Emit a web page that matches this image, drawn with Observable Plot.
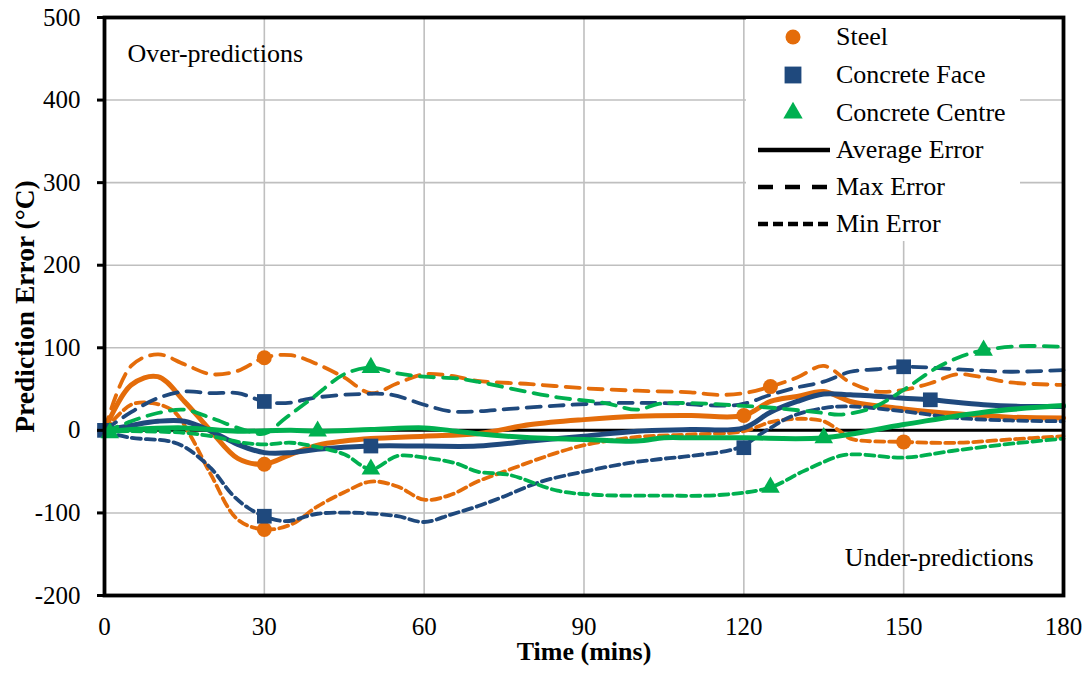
<!DOCTYPE html>
<html><head><meta charset="utf-8">
<script src="https://cdn.jsdelivr.net/npm/d3@7"></script>
<script src="https://cdn.jsdelivr.net/npm/@observablehq/plot@0.6"></script>
<style>
body{margin:0;background:#fff;}
#wrap{position:relative;width:1091px;height:673px;font-family:"Liberation Serif","Times New Roman",serif;}
g[aria-label="x-axis label"] text{font-weight:bold;font-size:26px;}
g[aria-label="y-axis label"] text{font-weight:bold;font-size:27.5px;}
#legend{position:absolute;left:746px;top:19px;width:274px;height:222px;background:#fff;}
.row{position:absolute;left:0;height:30px;width:274px;}
.row svg{position:absolute;left:0;top:0;}
.row span{position:absolute;left:90px;top:0;line-height:30px;font-size:26px;white-space:nowrap;color:#000;}
</style></head><body><div id="wrap"></div>
<script>
// ---- axis ticks ----
const xTicks = [0, 30, 60, 90, 120, 150, 180];
const yTicks = [-200, -100, 0, 100, 200, 300, 400, 500];

// ---- series values: [time (mins), prediction error (°C)] ----
const steelAvg = [[0,0],[5,55],[10,65],[15,35],[20,-1],[25,-34],[30,-41],[35,-29],[40,-18],[45,-13],[50,-10],[60,-7],[70,-4],[80,7],[90,13],[100,17],[110,18],[120,18],[125,35],[130,41],[135,47],[140,35],[150,26],[160,20],[170,16],[180,15]];
const steelMax = [[0,0],[5,78],[10,92],[15,80],[20,68],[25,72],[30,88],[35,91],[40,80],[45,64],[50,45],[55,57],[60,68],[65,66],[70,60],[80,56],[90,51],[100,48],[110,46],[115,43],[120,45],[125,53],[130,64],[135,78],[140,58],[145,47],[150,49],[155,57],[160,68],[165,64],[170,58],[180,55]];
const steelMin = [[0,0],[5,31],[9,33],[13,23],[16,-5],[20,-54],[25,-108],[30,-120],[35,-114],[40,-92],[45,-75],[50,-62],[55,-68],[60,-84],[65,-78],[70,-62],[75,-50],[80,-38],[85,-27],[90,-18],[100,-8],[110,-5],[120,-1],[125,10],[130,14],[135,11],[138,-1],[140,-10],[150,-14],[160,-15],[170,-11],[180,-7]];

const faceAvg = [[0,0],[5,6],[10,11],[15,11],[20,-1],[25,-17],[30,-27],[35,-27],[40,-23],[50,-19],[60,-19],[70,-19],[80,-13],[90,-7],[100,-1],[110,1],[120,3],[125,22],[130,35],[135,44],[140,43],[150,39],[155,37],[165,31],[172,29],[180,29]];
const faceMax = [[0,0],[5,22],[10,39],[15,47],[20,45],[25,45],[30,35],[34,33],[40,40],[48,44],[54,43],[60,31],[65,23],[70,23],[76,26],[85,30],[95,33],[105,33],[119,31],[125,43],[130,52],[135,59],[140,71],[145,74],[150,77],[160,74],[170,71],[180,73]];
const faceMin = [[0,-2],[5,-9],[12,-13],[15,-20],[20,-46],[24,-78],[27,-94],[30,-104],[34,-110],[40,-101],[48,-100],[55,-104],[60,-111],[65,-102],[70,-92],[75,-80],[82,-62],[90,-50],[98,-40],[104,-35],[110,-31],[119,-21],[124,-1],[129,17],[135,27],[140,29],[150,23],[160,15],[170,12],[180,11]];

const centreAvg = [[0,-2],[5,1],[15,3],[25,-1],[35,0],[40,-1],[50,1],[60,3],[66,-1],[70,-4],[80,-9],[90,-11],[100,-13],[105,-9],[110,-9],[120,-9],[135,-9],[150,7],[165,22],[180,30]];
const centreMax = [[0,-2],[5,11],[10,21],[15,25],[20,15],[26,1],[30,-4],[34,15],[39,39],[45,68],[50,76],[55,69],[60,65],[66,63],[70,59],[76,51],[85,40],[94,33],[100,25],[104,32],[110,33],[119,30],[126,27],[135,21],[138,19],[144,27],[150,49],[156,75],[161,90],[165,97],[172,102],[180,101]];
const centreMin = [[0,-2],[5,-1],[15,-3],[20,-7],[26,-15],[30,-17],[35,-15],[39,-19],[45,-29],[50,-47],[55,-31],[60,-33],[66,-40],[70,-50],[76,-54],[85,-73],[92,-78],[104,-79],[116,-78],[125,-69],[131,-50],[138,-31],[141,-29],[150,-33],[159,-25],[169,-17],[180,-10]];

// ---- marker points ----
const steelMarkers = [[0,0],[30,88],[30,-41],[30,-120],[120,18],[125,53],[150,-14]];
const faceMarkers = [[0,0],[30,35],[30,-104],[50,-19],[120,-21],[150,77],[155,37]];
const centreMarkers = [[1,-3],[40,-1],[50,76],[50,-47],[125,-69],[135,-9],[165,97]];

// ---- categories ----
const groups = ["Steel", "Concrete Face", "Concrete Centre"];
const groupColors = ["#E46C0A", "#1F497D", "#00B050"];
const groupSymbols = ["circle", "square", "triangle"];
const groupRadius = [7.5, 8.3, 6.9];
const kinds = ["Average Error", "Max Error", "Min Error"];

const seriesData = [
  [steelAvg, steelMax, steelMin],
  [faceAvg, faceMax, faceMin],
  [centreAvg, centreMax, centreMin]
];
const markerData = [steelMarkers, faceMarkers, centreMarkers];

const kindStyle = {
  "Average Error": {strokeWidth: 5, dash: null},
  "Max Error": {strokeWidth: 3.8, dash: "14,9"},
  "Min Error": {strokeWidth: 3.8, dash: "9,5"}
};

const lineMarks = [];
groups.forEach((g, gi) => {
  // draw max/min first, average on top
  [1, 2, 0].forEach(ki => {
    const k = kinds[ki];
    const rows = seriesData[gi][ki].map(([t, v]) => ({t, v}));
    lineMarks.push(Plot.line(rows, {
      x: "t", y: "v", stroke: groupColors[gi], strokeWidth: kindStyle[k].strokeWidth,
      strokeDasharray: kindStyle[k].dash, curve: "catmull-rom", strokeLinejoin: "round"
    }));
  });
});
const dotMarks = groups.map((g, gi) => Plot.dot(markerData[gi].map(([t, v]) => ({t, v})), {
  x: "t", y: "v", symbol: () => groupSymbols[gi], fill: groupColors[gi], stroke: "none", r: groupRadius[gi]
}));

const chart = Plot.plot({
  width: 1091, height: 673,
  marginTop: 17, marginRight: 28, marginBottom: 78, marginLeft: 104,
  style: {fontFamily: "'Liberation Serif','Times New Roman',serif", fontSize: "25px", color: "#000", background: "#fff", overflow: "visible"},
  x: {domain: [0, 180]},
  y: {domain: [-200, 500]},
  symbol: {type: "identity"},
  marks: [
    Plot.gridX(xTicks, {stroke: "#BFBFBF", strokeOpacity: 1, strokeWidth: 1.6}),
    Plot.gridY(yTicks, {stroke: "#BFBFBF", strokeOpacity: 1, strokeWidth: 1.6}),
    Plot.ruleY([0], {stroke: "#000", strokeWidth: 3}),
    Plot.text(["Over-predictions"], {frameAnchor: "top-left", text: d => d, textAnchor: "start", lineAnchor: "middle", dx: 23, dy: 36, fontSize: 26}),
    Plot.text(["Under-predictions"], {frameAnchor: "bottom-right", text: d => d, textAnchor: "end", lineAnchor: "middle", dx: -30, dy: -38, fontSize: 26}),
    ...lineMarks,
    ...dotMarks,
    Plot.frame({stroke: "#000", strokeWidth: 3.8}),
    Plot.axisX(xTicks, {tickSize: 0, tickPadding: 22, tickFormat: d => String(d), label: "Time (mins)", labelAnchor: "center", labelOffset: 64, labelArrow: "none", fontSize: 25}),
    Plot.axisY(yTicks, {tickSize: 7, tickPadding: 17, strokeWidth: 3, tickFormat: d => String(d), label: "Prediction Error (°C)", labelAnchor: "center", labelOffset: 90, labelArrow: "none", fontSize: 25})
  ]
});
const wrap = document.getElementById("wrap");
wrap.appendChild(chart);

// ---- legend overlay (inside plot area, top-right) ----
const legend = document.createElement("div");
legend.id = "legend";
wrap.appendChild(legend);
const ns = "http://www.w3.org/2000/svg";
const rowCenters = [18, 56, 94, 131, 168, 205];
const legendItems = [
  ...groups.map((g, gi) => ({label: g, type: "symbol", gi})),
  ...kinds.map(k => ({label: k, type: "line", k}))
];
const legendDash = {"Average Error": null, "Max Error": "15,12", "Min Error": "10,5"};
legendItems.forEach((it, i) => {
  const row = document.createElement("div");
  row.className = "row";
  row.style.top = (rowCenters[i] - 15) + "px";
  const svg = document.createElementNS(ns, "svg");
  svg.setAttribute("width", 90); svg.setAttribute("height", 30);
  if (it.type === "symbol") {
    const p = document.createElementNS(ns, "path");
    const sym = d3.symbol().type({circle: d3.symbolCircle, square: d3.symbolSquare, triangle: d3.symbolTriangle}[groupSymbols[it.gi]])
      .size(Math.PI * Math.pow([7.5, 9.5, 7.2][it.gi], 2));
    p.setAttribute("d", sym());
    p.setAttribute("transform", "translate(47,15)");
    p.setAttribute("fill", groupColors[it.gi]);
    svg.appendChild(p);
  } else {
    const l = document.createElementNS(ns, "line");
    l.setAttribute("x1", 12); l.setAttribute("x2", 84); l.setAttribute("y1", 15); l.setAttribute("y2", 15);
    l.setAttribute("stroke", "#000"); l.setAttribute("stroke-width", 4.5);
    if (legendDash[it.k]) l.setAttribute("stroke-dasharray", legendDash[it.k]);
    svg.appendChild(l);
  }
  row.appendChild(svg);
  const span = document.createElement("span");
  span.textContent = it.label;
  row.appendChild(span);
  legend.appendChild(row);
});
</script></body></html>
